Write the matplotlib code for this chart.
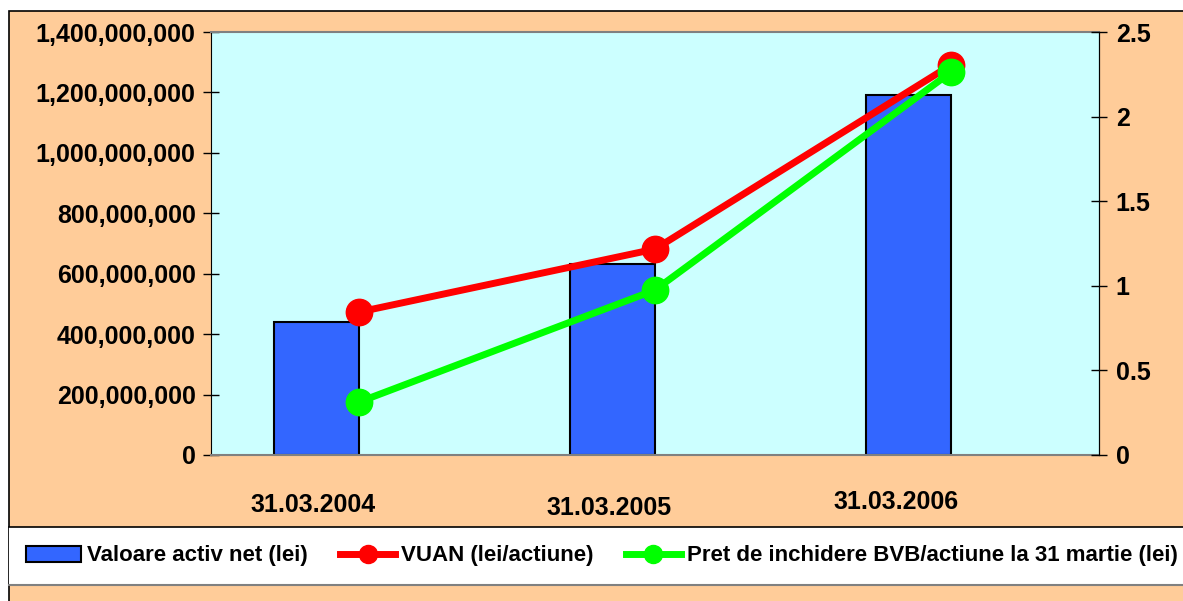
import matplotlib.pyplot as plt
from matplotlib.patches import Rectangle, Patch
from matplotlib.lines import Line2D
from matplotlib.ticker import FuncFormatter
import matplotlib.transforms as mtransforms

plt.rcParams['font.family'] = ['Liberation Sans', 'DejaVu Sans']
plt.rcParams['font.weight'] = 'bold'

dates = ['31.03.2004', '31.03.2005', '31.03.2006']
activ_net = [440000000, 632000000, 1191000000]
vuan = [0.845, 1.217, 2.305]
pret_bvb = [0.313, 0.975, 2.263]

orange = '#FFCC99'
cyan = '#CCFFFF'
blue = '#3366FF'
red = '#FF0000'
green = '#00FF00'

fig = plt.figure(figsize=(11.83, 6.01), dpi=100, facecolor='white')

# outer chart frame
frame = Rectangle((9 / 1183, -0.1), 1.2, 1.1 - 11 / 601, transform=fig.transFigure,
                  facecolor=orange, edgecolor='black', linewidth=1.2, zorder=-10)
fig.patches.append(frame)

# legend box
lbox = Rectangle((9 / 1183, 1 - 585 / 601), 1.2, (585 - 527) / 601, transform=fig.transFigure,
                 facecolor='white', edgecolor='none', zorder=-5)
fig.patches.append(lbox)
fig.add_artist(Line2D([9 / 1183, 1], [1 - 527 / 601] * 2, color='black', linewidth=1.2))
fig.add_artist(Line2D([9 / 1183, 1], [1 - 585 / 601] * 2, color='#808080', linewidth=1.5))

ax = fig.add_axes([211 / 1183, 1 - 455 / 601, 888 / 1183, 423 / 601])
ax.set_facecolor(cyan)
x = list(range(len(dates)))
bw = 0.287
ax.bar([i - bw / 2 for i in x], activ_net, width=bw, color=blue, edgecolor='black',
       linewidth=1.5, zorder=2)
ax.set_xlim(-0.5, 2.5)
ax.set_ylim(0, 1400000000)
ax.set_yticks(range(0, 1400000001, 200000000))
ax.yaxis.set_major_formatter(FuncFormatter(lambda v, p: f'{int(v):,}'))
ax.set_xticks([])
ax.tick_params(axis='y', direction='inout', length=12, width=1, labelsize=18, pad=5)
for s in ['top', 'bottom']:
    ax.spines[s].set_color('#808080')
    ax.spines[s].set_linewidth(1.5)
ax.spines['left'].set_color('black')
ax.spines['right'].set_color('black')

ax2 = ax.twinx()
ax2.plot(x, vuan, color=red, linewidth=5, marker='o', markersize=19, zorder=3)
ax2.plot(x, pret_bvb, color=green, linewidth=5, marker='o', markersize=19, zorder=4)
ax2.set_ylim(0, 2.5)
ax2.set_yticks([0, 0.5, 1, 1.5, 2, 2.5])
ax2.set_yticklabels(['0', '0.5', '1', '1.5', '2', '2.5'])
ax2.tick_params(axis='y', direction='inout', length=12, width=1, labelsize=18, pad=6)
for s in ['top', 'bottom']:
    ax2.spines[s].set_visible(False)
ax2.spines['left'].set_visible(False)
ax2.spines['right'].set_color('black')

# date labels
tr = mtransforms.blended_transform_factory(ax.transData, fig.transFigure)
label_x = [-0.155, 0.845, 1.814]
label_y = [1 - 505 / 601, 1 - 508 / 601, 1 - 502 / 601]
for lx, ly, d in zip(label_x, label_y, dates):
    ax.text(lx, ly, d, transform=tr, ha='center', va='center', fontsize=18, fontweight='bold')

handles = [
    Patch(facecolor=blue, edgecolor='black', linewidth=1.5),
    Line2D([], [], color=red, linewidth=5, marker='o', markersize=13),
    Line2D([], [], color=green, linewidth=5, marker='o', markersize=13),
]
labels = ['Valoare activ net (lei)', 'VUAN (lei/actiune)',
          'Pret de inchidere BVB/actiune la 31 martie (lei)']
fig.legend(handles, labels, loc='center left', bbox_to_anchor=(19 / 1183, 1 - 556 / 601),
           ncol=3, frameon=False, handlelength=2.5, handletextpad=0.25,
           columnspacing=1.45, borderaxespad=0, borderpad=0.3,
           prop={'weight': 'bold', 'size': 16})

fig.savefig('out.png', dpi=100, facecolor=fig.get_facecolor())
